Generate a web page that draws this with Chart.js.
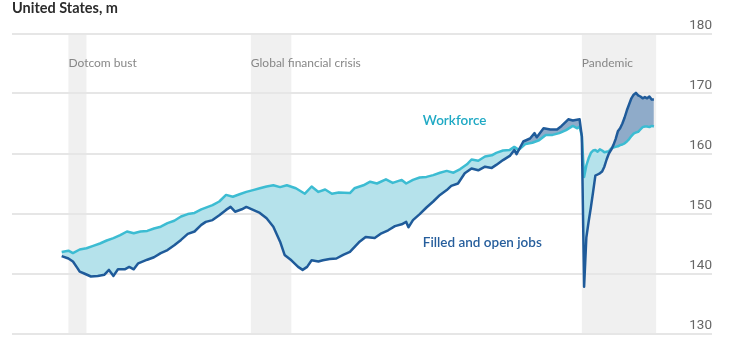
<!DOCTYPE html>
<html>
<head>
<meta charset="utf-8">
<script src="https://cdn.jsdelivr.net/npm/chart.js@4.4.0/dist/chart.umd.min.js"></script>
<style>
  html, body { margin: 0; padding: 0; background: #fff; }
  #wrap { position: relative; width: 731px; height: 348px; }
  #chart { position: absolute; left: 0; top: 0; }
  #titel { position: absolute; left: 12px; top: 0px; font: bold 14.5px Lato, sans-serif; line-height: 15px; color: #2b2b2b; }
</style>
</head>
<body>
<div id="wrap">
  <canvas id="chart" width="731" height="348"></canvas>
  <div id="titel">United States, m</div>
</div>
<script>
// workforce, m
var wfMonths = ['2000-12','2001-03','2001-05','2001-08','2001-11','2002-02','2002-05','2002-08','2002-11','2003-02',
  '2003-05','2003-08','2003-11','2004-02','2004-05','2004-08','2004-11','2005-02','2005-05','2005-08',
  '2005-11','2006-02','2006-07','2006-10','2007-01','2007-04','2007-07','2007-10','2008-01','2008-04',
  '2008-07','2008-10','2009-01','2009-04','2009-08','2009-12','2010-03','2010-06','2010-09','2010-12',
  '2011-03','2011-08','2011-10','2012-02','2012-05','2012-08','2012-12','2013-03','2013-07','2013-09',
  '2013-12','2014-03','2014-06','2014-09','2014-12','2015-03','2015-06','2015-09','2015-12','2016-02',
  '2016-05','2016-08','2016-11','2017-01','2017-04','2017-07','2017-09','2017-11','2018-02','2018-05',
  '2018-08','2018-11','2019-02','2019-05','2019-08','2019-11','2020-01','2020-02','2020-03','2020-04',
  '2020-05','2020-06','2020-07','2020-08','2020-09','2020-10','2020-11','2020-12','2021-01','2021-02',
  '2021-03','2021-04','2021-05','2021-06','2021-07','2021-08','2021-09','2021-10','2021-11','2021-12',
  '2022-01','2022-02','2022-03','2022-04','2022-05','2022-06','2022-07','2022-08','2022-09','2022-10','2022-11'];
var wfValues = [143.6,143.8,143.4,144.0,144.2,144.6,145.0,145.5,145.9,146.4,
  147.0,146.7,147.0,147.1,147.5,147.8,148.4,148.8,149.5,149.9,
  150.1,150.7,151.4,152.0,153.1,152.8,153.2,153.6,153.9,154.2,
  154.5,154.7,154.4,154.7,154.2,153.3,154.5,153.6,154.0,153.3,
  153.5,153.4,154.2,154.7,155.3,155.0,155.7,155.1,155.6,155.0,
  155.6,156.0,156.1,156.4,156.8,157.1,156.8,157.4,158.2,159.0,
  158.8,159.5,159.7,160.1,160.5,160.6,161.1,160.6,161.6,161.8,
  162.2,163.1,163.1,163.4,163.9,164.6,164.2,164.5,162.9,156.1,
  158.0,159.2,160.1,160.5,160.6,160.3,160.7,160.5,160.2,160.3,
  160.4,160.8,161.0,161.1,161.2,161.4,161.5,161.7,162.0,162.4,
  162.9,163.3,163.5,163.6,164.0,164.4,164.5,164.5,164.4,164.6,164.5];

// filled and open jobs, m
var jobsMonths = ['2000-12','2001-03','2001-05','2001-07','2001-08','2001-10','2002-01','2002-04','2002-07','2002-09',
  '2002-11','2003-01','2003-04','2003-06','2003-08','2003-10','2004-02','2004-05','2004-08','2004-11',
  '2005-02','2005-05','2005-08','2005-11','2006-02','2006-04','2006-07','2006-10','2007-01','2007-03',
  '2007-05','2007-08','2007-10','2008-01','2008-04','2008-07','2008-10','2009-01','2009-03','2009-06',
  '2009-09','2009-11','2010-01','2010-03','2010-06','2010-08','2010-11','2011-02','2011-05','2011-08',
  '2011-12','2012-03','2012-07','2012-10','2013-01','2013-04','2013-07','2013-09','2013-10','2013-12',
  '2014-03','2014-06','2014-09','2014-12','2015-03','2015-05','2015-08','2015-11','2016-02','2016-05',
  '2016-08','2016-11','2017-01','2017-04','2017-07','2017-09','2017-10','2018-01','2018-04','2018-06',
  '2018-07','2018-10','2019-01','2019-04','2019-06','2019-09','2019-11','2020-02','2020-03','2020-04',
  '2020-05','2020-06','2020-07','2020-08','2020-09','2020-10','2020-11','2020-12','2021-01','2021-02',
  '2021-03','2021-04','2021-05','2021-06','2021-07','2021-08','2021-09','2021-10','2021-11','2021-12',
  '2022-01','2022-02','2022-03','2022-04','2022-05','2022-06','2022-07','2022-08','2022-09','2022-10','2022-11'];
var jobsValues = [142.9,142.5,142.0,140.9,140.3,140.0,139.5,139.6,139.8,140.6,
  139.6,140.7,140.7,141.1,140.7,141.7,142.3,142.7,143.4,143.9,
  144.7,145.6,146.6,147.0,148.1,148.6,148.9,149.7,150.6,151.1,
  150.3,150.7,151.1,150.6,150.1,149.2,147.8,145.3,143.1,142.2,
  141.1,140.6,141.1,142.2,142.0,142.2,142.4,142.5,143.1,143.6,
  145.2,146.1,145.9,146.7,147.2,147.9,148.2,148.6,147.7,148.9,
  149.9,151.0,152.0,153.1,153.9,154.6,155.0,156.7,157.5,157.2,
  157.8,157.6,158.1,158.9,159.6,160.6,159.9,162.0,162.5,163.4,
  162.7,164.2,164.0,164.0,164.6,165.7,165.5,165.7,162.8,137.8,
  146.0,148.6,151.0,153.6,156.3,156.5,156.7,157.0,157.8,159.0,
  160.0,160.6,161.4,162.4,163.7,164.2,165.0,166.0,167.2,168.2,
  169.2,169.8,170.1,169.7,169.5,169.2,169.4,169.2,169.5,169.0,169.0];

// recessies
var bandNames = ['Dotcom bust', 'Global financial crisis', 'Pandemic'];
var bandStarts = ['2001-03', '2007-12', '2020-03'];
var bandEnds = ['2001-11', '2009-06', '2022-12'];

var yTicks = [130, 140, 150, 160, 170, 180];

// maand als getal, 0 = januari 2000
function maand(s) {
  var p = s.split('-');
  return (parseInt(p[0]) - 2000) * 12 + (parseInt(p[1]) - 1);
}

function punten(months, values) {
  return months.map(function (m, i) { return {x: maand(m), y: values[i]}; });
}

var achtergrond = {
  id: 'achtergrond',
  beforeDraw: function (chart) {
    var ctx = chart.ctx, xs = chart.scales.x, area = chart.chartArea;
    ctx.save();
    ctx.fillStyle = '#f0f0f0';
    for (var i = 0; i < bandNames.length; i++) {
      var x1 = xs.getPixelForValue(maand(bandStarts[i]));
      var x2 = xs.getPixelForValue(maand(bandEnds[i]));
      ctx.fillRect(x1, area.top, x2 - x1, area.bottom - area.top);
    }
    ctx.restore();
  },
  afterDraw: function (chart) {
    var ctx = chart.ctx, xs = chart.scales.x, ys = chart.scales.y;
    ctx.save();
    ctx.textAlign = 'left';
    ctx.textBaseline = 'alphabetic';
    ctx.font = '12px Lato, sans-serif';
    ctx.fillStyle = '#878787';
    for (var i = 0; i < bandNames.length; i++) {
      ctx.fillText(bandNames[i], xs.getPixelForValue(maand(bandStarts[i])), 66.5);
    }
    ctx.font = '600 13.5px Lato, sans-serif';
    ctx.fillStyle = '#1fa9c4';
    ctx.fillText('Workforce', xs.getPixelForValue(171.4), ys.getPixelForValue(164.8));
    ctx.fillStyle = '#265e9c';
    ctx.fillText('Filled and open jobs', xs.getPixelForValue(171.4), ys.getPixelForValue(144.4));
    ctx.restore();
  }
};

var ctx = document.getElementById('chart').getContext('2d');
var chart = new Chart(ctx, {
  type: 'line',
  data: {
    datasets: [{
      label: 'Filled and open jobs',
      data: punten(jobsMonths, jobsValues),
      borderColor: '#1f5b9a',
      borderWidth: 2.5,
      pointRadius: 0,
      tension: 0,
      borderJoinStyle: 'round',
      fill: false
    }, {
      label: 'Workforce',
      data: punten(wfMonths, wfValues),
      borderColor: '#3cbcd2',
      borderWidth: 2.5,
      pointRadius: 0,
      tension: 0,
      borderJoinStyle: 'round',
      fill: {target: 0, above: '#b5e2eb', below: '#8fabc9'}
    }]
  },
  options: {
    responsive: false,
    animation: false,
    layout: {padding: {left: 12, right: 19, top: 33.5, bottom: 14.5}},
    plugins: {legend: {display: false}, tooltip: {enabled: false}},
    scales: {
      x: {
        type: 'linear',
        display: false,
        min: -11.06,
        max: 299.8
      },
      y: {
        position: 'right',
        min: 130,
        max: 180,
        afterBuildTicks: function (axis) {
          axis.ticks = yTicks.map(function (v) { return {value: v}; });
        },
        border: {display: false},
        grid: {color: '#e6e6e6', lineWidth: 2, drawTicks: false},
        ticks: {
          mirror: true,
          padding: 0,
          labelOffset: -8,
          color: '#666',
          font: {family: "'Liberation Sans Narrow', Roboto, sans-serif", size: 13.5}
        }
      }
    }
  },
  plugins: [achtergrond]
});
</script>
</body>
</html>
